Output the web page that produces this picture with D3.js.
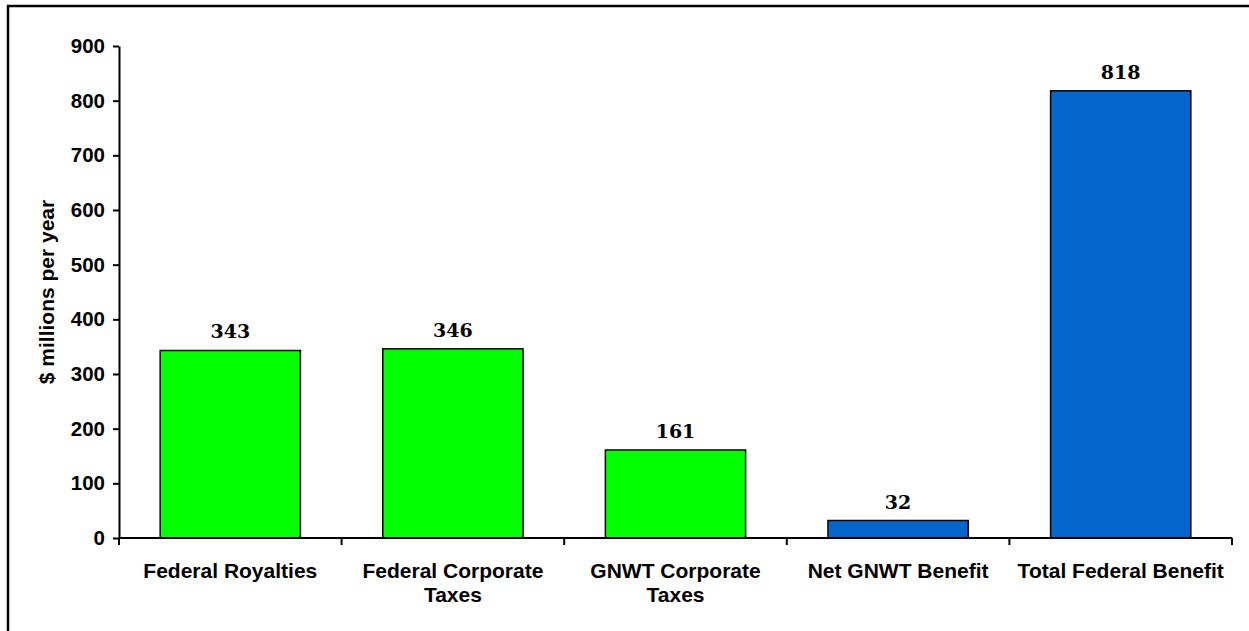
<!DOCTYPE html>
<html>
<head>
<meta charset="utf-8">
<script src="https://cdn.jsdelivr.net/npm/d3@7"></script>
<style>
  html, body { margin: 0; padding: 0; background: #fff; }
  svg { display: block; }
</style>
</head>
<body>
<svg id="chart" width="1249" height="631"></svg>
<script>
// ---- data ----
const categories = [
  "Federal Royalties",
  "Federal Corporate\nTaxes",
  "GNWT Corporate\nTaxes",
  "Net GNWT Benefit",
  "Total Federal Benefit"
];
const values = [343, 346, 161, 32, 818];
const barColors = ["#00FF00", "#00FF00", "#00FF00", "#0366CB", "#0366CB"];
const yTicks = [0, 100, 200, 300, 400, 500, 600, 700, 800, 900];
const yTitle = "$ millions per year";

// ---- layout ----
const svg = d3.select("#chart");
const plotLeft = 119, plotRight = 1232, plotTop = 46, plotBottom = 538;

// outer frame
svg.append("rect")
  .attr("x", 8).attr("y", 6)
  .attr("width", 1300).attr("height", 700)
  .attr("fill", "none").attr("stroke", "#000").attr("stroke-width", 2.5);

const x = d3.scaleBand().domain(categories).range([plotLeft, plotRight])
  .paddingInner(0.37).paddingOuter(0.185);
const y = d3.scaleLinear().domain([0, 900]).range([plotBottom, plotTop]);

// bars
svg.append("g").selectAll("rect")
  .data(categories)
  .join("rect")
  .attr("x", d => x(d))
  .attr("y", (d, i) => y(values[i]))
  .attr("width", x.bandwidth())
  .attr("height", (d, i) => y(0) - y(values[i]))
  .attr("fill", (d, i) => barColors[i])
  .attr("stroke", "#000")
  .attr("stroke-width", 1.5);

// value labels
svg.append("g").selectAll("text")
  .data(categories)
  .join("text")
  .attr("x", d => x(d) + x.bandwidth() / 2)
  .attr("y", (d, i) => y(values[i]) - 12)
  .attr("text-anchor", "middle")
  .attr("font-family", "'DejaVu Serif', serif")
  .attr("font-weight", "bold")
  .attr("font-size", 19)
  .attr("fill", "#000")
  .text((d, i) => values[i]);

// y axis
const yAxis = d3.axisLeft(y).tickValues(yTicks).tickSize(6).tickPadding(8).tickSizeOuter(0);
const gy = svg.append("g").attr("transform", `translate(${plotLeft},0)`).call(yAxis);
gy.select(".domain").attr("stroke", "#000").attr("stroke-width", 2);
gy.selectAll(".tick line").attr("stroke", "#000").attr("stroke-width", 2);
gy.selectAll(".tick text")
  .attr("font-family", "'Liberation Sans', Arial, sans-serif")
  .attr("font-weight", "bold")
  .attr("font-size", 20.5)
  .attr("fill", "#000");

// x axis line
svg.append("line")
  .attr("x1", plotLeft).attr("x2", plotRight)
  .attr("y1", y(0)).attr("y2", y(0))
  .attr("stroke", "#000").attr("stroke-width", 2);

// x ticks at category boundaries
const step = x.step();
const boundaries = categories.map(c => x(c) - step * x.paddingInner() / 2).concat([plotRight]);
svg.append("g").selectAll("line")
  .data(boundaries)
  .join("line")
  .attr("x1", d => d).attr("x2", d => d)
  .attr("y1", y(0)).attr("y2", y(0) + 7)
  .attr("stroke", "#000").attr("stroke-width", 2);

// category labels
const catG = svg.append("g");
categories.forEach(c => {
  const t = catG.append("text")
    .attr("x", x(c) + x.bandwidth() / 2)
    .attr("y", y(0) + 40)
    .attr("text-anchor", "middle")
    .attr("font-family", "'Liberation Sans', Arial, sans-serif")
    .attr("font-weight", "bold")
    .attr("font-size", 21)
    .attr("fill", "#000");
  c.split("\n").forEach((line, j) => {
    t.append("tspan")
      .attr("x", x(c) + x.bandwidth() / 2)
      .attr("dy", j === 0 ? 0 : 24)
      .text(line);
  });
});

// y title
svg.append("text")
  .attr("transform", `translate(54,${(plotTop + plotBottom) / 2}) rotate(-90)`)
  .attr("text-anchor", "middle")
  .attr("font-family", "'Liberation Sans', Arial, sans-serif")
  .attr("font-weight", "bold")
  .attr("font-size", 21)
  .attr("fill", "#000")
  .text(yTitle);
</script>
</body>
</html>
